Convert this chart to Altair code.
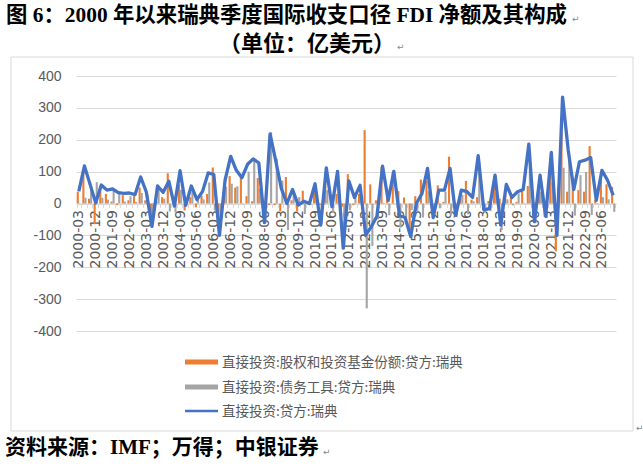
import json
import altair as alt
import pandas as pd

# ---------------- data ----------------
quarters = [f"{y}-{m}" for y in range(2000, 2024) for m in ("03", "06", "09", "12")]
tick_labels = quarters[::3]

equity = [37, 100, 15, -65, 40, 30, 6, -5, 26, 10, 23, 50, 10, -36, 5, 20,
          95, 20, 60, -22, 20, -12, 25, 30, 113, -42, 20, 86, 50, 82, 23, 7,
          80, 2, -5, -5, -25, 83, 10, -25, 40, 5, 42, -5, 70, 20, 30, -10,
          92, -5, 30, 230, 60, 10, 115, 47, 100, 39, 19, -84, 23, 75, 71, -30,
          57, 5, 147, 5, 15, 71, 12, 20, 10, 8, 54, 15, 47, 25, 5, 42,
          55, 5, 52, -42, 94, -150, 222, 37, 82, 42, 37, 180, 12, 84, 60, 52]
debt = [1, 18, 45, 67, 18, 12, 40, 39, 6, 23, 5, 33, 26, -36, 50, 15,
        -25, -28, 43, 16, 35, 24, 13, 66, -22, -58, 53, 62, 54, -1, 100, 133,
        47, -62, 223, 140, 72, -83, 34, 20, -33, -5, 20, -63, 42, -30, 71, -130,
        -21, 24, 27, -329, -133, -50, 2, -37, 1, -76, -63, -20, -23, -44, 39, -14,
        -15, 37, -37, -42, 27, -34, 7, 130, -30, -24, 35, -83, 13, -6, 32, 2,
        131, -62, 37, 2, 66, 50, 112, 131, -38, 89, 99, -36, -2, 20, 13, -26]
total = [38, 118, 60, 2, 58, 42, 46, 34, 32, 33, 28, 83, 36, -72, 55, 35,
         70, -8, 103, -6, 55, 12, 38, 96, 91, -100, 73, 148, 104, 81, 123, 140,
         127, -60, 218, 135, 47, 0, 44, -5, 7, 0, 62, -68, 112, -10, 101, -140,
         71, 19, 57, -99, -73, -40, 117, 10, 101, -37, -44, -104, 0, 31, 110, -44,
         42, 42, 110, -37, 42, 37, 19, 150, -20, -16, 89, -68, 60, 19, 37, 44,
         186, -57, 89, -40, 160, -100, 334, 168, 44, 131, 136, 144, 10, 104, 73, 26]

series_names = ["直接投资:股权和投资基金份额:贷方:瑞典",
                "直接投资:债务工具:贷方:瑞典",
                "直接投资:贷方:瑞典"]
colors = ["#ED7D31", "#A5A5A5", "#4472C4"]
y_ticks = list(range(-400, 401, 100))

title1 = "图 6：2000 年以来瑞典季度国际收支口径 FDI 净额及其构成"
title2 = "（单位：亿美元）"
footer = "资料来源：IMF；万得；中银证券"

# ---------------- layout ----------------
W, H = 540, 255
PAD_L, PAD_T = 76, 76

bars_df = pd.DataFrame({
    "q": quarters * 2,
    "s": [series_names[0]] * len(quarters) + [series_names[1]] * len(quarters),
    "v": equity + debt,
})
line_df = pd.DataFrame({"q": quarters, "v": total})
one = pd.DataFrame({"a": [0]})

label_expr = "indexof(" + json.dumps(tick_labels) + ", datum.value) >= 0 ? datum.value : ''"

x_axis = alt.Axis(title=None, orient="bottom", offset=-H / 2, labelExpr=label_expr,
                  labelAngle=270, labelFont="DejaVu Sans", labelFontSize=14,
                  labelColor="#595959", labelPadding=2, labelOverlap=False,
                  domainColor="#d9d9d9", tickColor="#d9d9d9", tickSize=4,
                  tickBand="extent", grid=False)
x_scale = alt.Scale(paddingInner=0.25, paddingOuter=0.125)
y_axis = alt.Axis(title=None, values=y_ticks, labelExpr="'' + datum.value", ticks=False,
                  domain=False, gridColor="#d9d9d9", gridWidth=1, labelOverlap=False,
                  labelFont="Liberation Sans", labelFontSize=14, labelColor="#595959",
                  labelPadding=15)
y_scale = alt.Scale(domain=[-400, 400], nice=False, zero=False)

bars = alt.Chart(bars_df).mark_bar().encode(
    x=alt.X("q:N", sort=quarters, scale=x_scale, axis=x_axis),
    xOffset=alt.XOffset("s:N", sort=series_names[:2]),
    y=alt.Y("v:Q", scale=y_scale, axis=y_axis),
    color=alt.Color("s:N", scale=alt.Scale(domain=series_names[:2], range=colors[:2]), legend=None),
)

line = alt.Chart(line_df).mark_line(color=colors[2], strokeWidth=3.3, strokeJoin="round").encode(
    x=alt.X("q:N", sort=quarters, scale=x_scale, axis=x_axis),
    y=alt.Y("v:Q", scale=y_scale, axis=y_axis),
)

layers = [bars, line]

# legend (manual)
leg_rows = [286, 311, 335]
leg_widths = [5, 5, 2.5]
for name, col, ry, sw in zip(series_names, colors, leg_rows, leg_widths):
    layers.append(alt.Chart(one).mark_rule(color=col, strokeWidth=sw, strokeCap="butt").encode(
        x=alt.value(109), x2=alt.value(142), y=alt.value(ry)))
    layers.append(alt.Chart(one).mark_text(align="left", baseline="middle", font="Noto Sans CJK SC",
                                           fontSize=13.5, color="#595959").encode(
        x=alt.value(146), y=alt.value(ry + 1), text=alt.value(name)))

# frame
layers.append(alt.Chart(one).mark_rect(fillOpacity=0, stroke="#d9d9d9", strokeWidth=1).encode(
    x=alt.value(-65), x2=alt.value(557), y=alt.value(-19), y2=alt.value(355)))

# titles / footer
tfont = "Liberation Serif, Noto Sans CJK SC"
for txt, tx, ty, fs in [(title1, -70, -60, 21.4), (title2, 143, -32, 22), (footer, -71, 372, 21)]:
    layers.append(alt.Chart(one).mark_text(align="left", baseline="middle", font=tfont,
                                           fontSize=fs, fontWeight="bold", color="#000000").encode(
        x=alt.value(tx), y=alt.value(ty), text=alt.value(txt)))

for tx, ty in [(496, -57), (321, -29), (247, 376), (560, 352)]:
    layers.append(alt.Chart(one).mark_text(align="left", baseline="middle", font="DejaVu Sans",
                                           fontSize=9, color="#888888").encode(
        x=alt.value(tx), y=alt.value(ty), text=alt.value("↵")))

chart = alt.layer(*layers).properties(
    width=W, height=H,
    autosize=alt.AutoSizeParams(type="none"),
    padding={"left": PAD_L, "top": PAD_T, "right": 643 - PAD_L - W, "bottom": 473 - PAD_T - H},
    background="white",
).configure_view(strokeWidth=0)

chart.save("out.html", embed_options={"renderer": "svg", "actions": False})
